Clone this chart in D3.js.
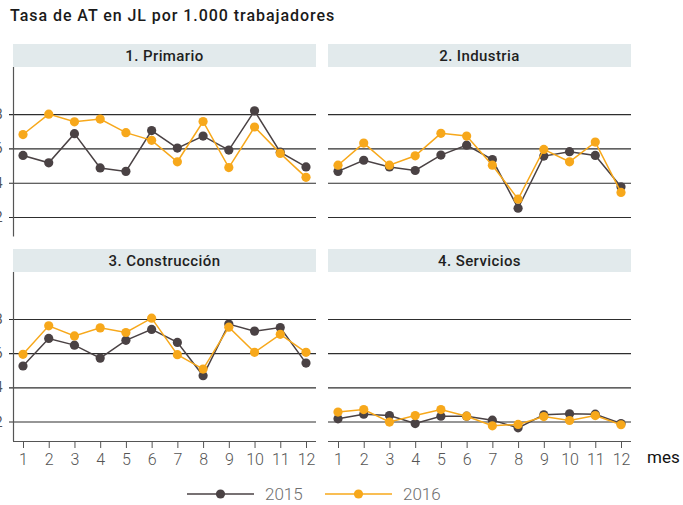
<!DOCTYPE html>
<html><head><meta charset="utf-8">
<script src="https://cdn.jsdelivr.net/npm/d3@7"></script>
<style>body{margin:0;background:#fff}svg{display:block}</style>
</head><body>
<svg id="c" width="683" height="505"></svg>
<script>
const months = [1,2,3,4,5,6,7,8,9,10,11,12];
const sectors = ["1. Primario","2. Industria","3. Construcción","4. Servicios"];
const years = ["2015","2016"];
const yTicks = [2,4,6,8];
const primario2015 = [5.59,5.16,6.86,4.86,4.66,7.04,6.02,6.72,5.90,8.19,5.78,4.92];
const primario2016 = [6.81,8.00,7.55,7.71,6.92,6.47,5.22,7.57,4.88,7.25,5.71,4.31];
const industria2015 = [4.66,5.31,4.92,4.71,5.61,6.19,5.35,2.51,5.55,5.81,5.59,3.76];
const industria2016 = [5.02,6.31,5.02,5.57,6.88,6.72,5.02,3.04,5.94,5.22,6.37,3.43];
const construccion2015 = [5.25,6.86,6.47,5.71,6.75,7.39,6.63,4.68,7.70,7.29,7.50,5.42];
const construccion2016 = [5.93,7.60,7.01,7.48,7.21,8.05,5.91,5.07,7.52,6.05,7.10,6.05];
const servicios2015 = [2.16,2.43,2.35,1.88,2.31,2.31,2.08,1.63,2.39,2.45,2.43,1.88];
const servicios2016 = [2.55,2.70,1.97,2.35,2.70,2.31,1.75,1.83,2.29,2.06,2.35,1.81];
const seriesBySector = [
  [primario2015, primario2016],
  [industria2015, industria2016],
  [construccion2015, construccion2016],
  [servicios2015, servicios2016]
];
const colors = {"2015":"#4a4244","2016":"#f7a81b"};

const svg = d3.select("#c");
const font = "Roboto, 'DejaVu Sans', sans-serif";

svg.append("text").attr("x",10).attr("y",21).attr("font-family",font)
  .attr("font-size",16).attr("font-weight",500).attr("letter-spacing",0.95).attr("fill","#1a1a1a")
  .text("Tasa de AT en JL por 1.000 trabajadores");

const colX = [13, 328], panelW = 303;
const stripTop = [44, 249], stripH = 23;
const plotTop = [67, 272], plotBottom = [236.5, 441];

sectors.forEach((name, i) => {
  const c = i % 2, r = Math.floor(i / 2);
  const x0 = colX[c];
  const g = svg.append("g");
  g.append("rect").attr("x",x0).attr("y",stripTop[r]).attr("width",panelW).attr("height",stripH)
    .attr("fill","#e2eaec");
  g.append("text").attr("x",x0+panelW/2).attr("y",stripTop[r]+17).attr("text-anchor","middle")
    .attr("font-family",font).attr("font-size",15).attr("font-weight",500).attr("letter-spacing",0.4).attr("fill","#1f1f1f")
    .text(name);

  const x = d3.scaleLinear().domain([1,12]).range([x0+10, x0+293]);
  const y = d3.scaleLinear().domain([0.86,10.75]).range([plotBottom[r], plotTop[r]]);

  const ya = g.append("g").attr("transform",`translate(${x0},0)`)
    .call(d3.axisLeft(y).tickValues(yTicks).tickSize(-panelW).tickFormat(d3.format("d")).tickPadding(6))
    .attr("font-family",font).attr("font-size",14);
  ya.select(".domain").remove();
  ya.selectAll(".tick line").attr("stroke","#2e2e2e").attr("stroke-width",1.1)
    .attr("x1", c===0 ? -4 : 0).attr("x2", panelW);
  ya.selectAll(".tick text").attr("fill","#555").attr("x", -10.5)
    .style("display", c===0 ? null : "none");
  if (c===0) {
    g.append("line").attr("x1",x0+0.5).attr("x2",x0+0.5).attr("y1",plotTop[r]).attr("y2",plotBottom[r])
      .attr("stroke","#555").attr("stroke-width",1.2);
  }
  if (r===1) {
    const xa = g.append("g").attr("transform",`translate(0,${plotBottom[r]})`)
      .call(d3.axisBottom(x).tickValues(months).tickSize(7).tickPadding(6).tickFormat(d3.format("d")))
      .attr("font-family",font).attr("font-size",16).attr("font-weight",300);
    xa.select(".domain").attr("stroke","#555").attr("stroke-width",1.2)
      .attr("d",`M${x0},0.5H${x0+panelW}`);
    xa.selectAll(".tick line").attr("stroke","#555");
    xa.selectAll(".tick text").attr("fill","#555");
  }

  seriesBySector[i].forEach((vals, k) => {
    const col = colors[years[k]];
    const line = d3.line().x((d,j)=>x(months[j])).y(d=>y(d));
    g.append("path").datum(vals).attr("d",line).attr("fill","none")
      .attr("stroke",col).attr("stroke-width",1.5);
    g.selectAll(null).data(vals).enter().append("circle")
      .attr("cx",(d,j)=>x(months[j])).attr("cy",d=>y(d)).attr("r",4.6).attr("fill",col);
  });
});

svg.append("text").attr("x",647).attr("y",463).attr("font-family",font).attr("font-size",17)
  .attr("fill","#111").text("mes");

const legendX = [187, 325];
years.forEach((yr, k) => {
  const lx = legendX[k], ly = 494;
  svg.append("line").attr("x1",lx).attr("x2",lx+67).attr("y1",ly).attr("y2",ly)
    .attr("stroke",colors[yr]).attr("stroke-width",1.5);
  svg.append("circle").attr("cx",lx+33.5).attr("cy",ly).attr("r",4.6).attr("fill",colors[yr]);
  svg.append("text").attr("x",lx+78).attr("y",ly+6).attr("font-family",font).attr("font-size",17)
    .attr("font-weight",300).attr("fill","#6e6e6e").text(yr);
});
</script>
</body></html>
